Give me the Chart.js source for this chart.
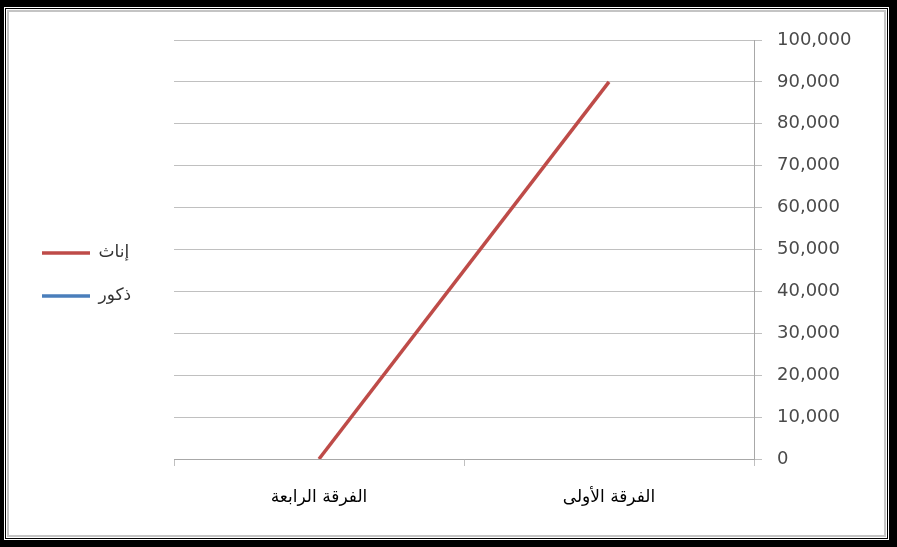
<!DOCTYPE html>
<html>
<head>
<meta charset="utf-8">
<script src="https://cdn.jsdelivr.net/npm/chart.js@4/dist/chart.umd.min.js"></script>
<style>
  html, body { margin: 0; padding: 0; }
  body { width: 897px; height: 547px; background: #000; overflow: hidden; position: relative; }
  #frame {
    position: absolute; left: 4px; top: 7px; width: 885px; height: 533px;
    box-sizing: border-box; padding: 1px; background: #fff;
  }
  #inner { box-sizing: border-box; height: 100%; border: 1px solid #000; padding: 1px; background: #fff; }
  #plot { box-sizing: border-box; height: 100%; border: 2px solid #c4c4c4; background: #fff; position: relative; }
  #chart { display: block; }
</style>
</head>
<body>
<div id="frame"><div id="inner"><div id="plot">
  <canvas id="chart" width="876" height="523"></canvas>
</div></div></div>
<script>
// categories, left to right as they appear
var categories = ['الفرقة الرابعة', 'الفرقة الأولى'];
var seriesNames = ['إناث', 'ذكور'];
var femaleValues = [0, 90000];
var maleValues = [null, null]; // no visible line in the picture
var yTicks = { min: 0, max: 100000, step: 10000 };

var gridGrey = '#c0c0c0';

// squeeze the left legend to a fixed width so the plot starts where it should
var legendWidth = {
  id: 'legendWidth',
  beforeInit: function (chart) {
    var fit = chart.legend.fit;
    chart.legend.fit = function () {
      fit.bind(chart.legend)();
      this.width = 158;
    };
  }
};

new Chart(document.getElementById('chart'), {
  type: 'line',
  data: {
    labels: categories,
    datasets: [
      { label: seriesNames[0], data: femaleValues, borderColor: '#be4b48', backgroundColor: '#be4b48', borderWidth: 3.5, pointRadius: 0 },
      { label: seriesNames[1], data: maleValues, borderColor: '#4a7ebb', backgroundColor: '#4a7ebb', borderWidth: 3.5, pointRadius: 0 }
    ]
  },
  options: {
    responsive: false,
    animation: false,
    layout: { padding: { left: 7, top: 28, bottom: 26, right: 0 } },
    plugins: {
      tooltip: { enabled: false },
      legend: {
        position: 'left',
        labels: {
          usePointStyle: true,
          pointStyle: 'line',
          pointStyleWidth: 48,
          padding: 26,
          color: '#333',
          font: { family: 'DejaVu Sans', size: 17 }
        }
      }
    },
    scales: {
      x: {
        offset: true,
        grid: { offset: true, drawOnChartArea: false, drawTicks: true, tickLength: 7, color: gridGrey, tickColor: gridGrey },
        border: { color: '#a8a8a8' },
        ticks: { color: '#000', padding: 21, font: { family: 'DejaVu Sans', size: 17 } },
        afterFit: function (s) { s.height = 50; }
      },
      y: {
        position: 'right',
        min: yTicks.min,
        max: yTicks.max,
        grid: { color: gridGrey, tickLength: 8, tickColor: gridGrey },
        border: { color: '#a8a8a8' },
        ticks: {
          stepSize: yTicks.step,
          padding: 15,
          color: '#4a4a4a',
          font: { family: 'DejaVu Sans', size: 18 },
          callback: function (v) { return v.toLocaleString('en-US'); }
        },
        afterFit: function (s) { s.width = 131; }
      }
    }
  },
  plugins: [legendWidth]
});
</script>
</body>
</html>
